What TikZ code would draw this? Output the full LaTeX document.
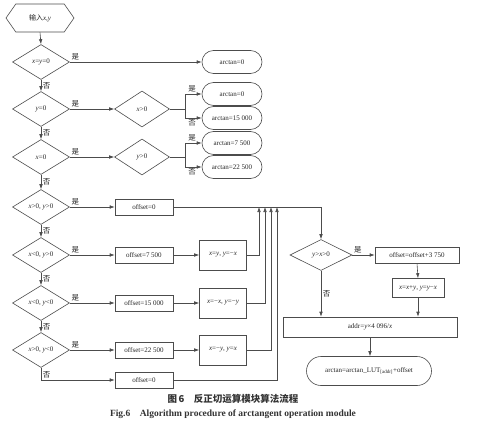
\documentclass[tikz,border=0pt]{standalone}
\usepackage{fontspec}
\setmainfont{Liberation Serif}
\newfontfamily\cjk{Noto Sans CJK SC}
\usetikzlibrary{shapes.geometric,shapes.misc,shapes.symbols,arrows.meta}
\newcommand\vx{\textit{x}}
\newcommand\vy{\textit{y}}
\begin{document}
\begin{tikzpicture}[x=1pt,y=-1pt,
  every node/.style={font=\fontsize{7}{8}\selectfont, text=black!85},
  line/.style={draw=black!70, line width=0.6pt},
  arr/.style={line, -{Latex[length=5pt,width=3.6pt]}},
  dia/.style={diamond, draw=black!70, line width=0.6pt, minimum width=57pt, minimum height=35pt, inner sep=0pt},
  box/.style={rectangle, draw=black!70, line width=0.6pt, minimum width=58pt, minimum height=16pt, inner sep=1pt},
  rbox/.style={rounded rectangle, draw=black!70, line width=0.6pt, minimum width=62pt, minimum height=23pt, inner sep=1pt},
  lab/.style={font=\cjk\fontsize{7.5}{8}\selectfont, inner sep=1.5pt}]
\useasboundingbox (0,0) rectangle (501,444);
% left column
\node[signal, signal to=west and east, signal pointer angle=110, draw=black!70, line width=0.6pt, minimum width=68pt, minimum height=28pt, inner sep=0pt] (hex) at (40,18) {{\cjk 输入}\vx,\vy};
\node[dia] (d1) at (41,62) {\vx=\vy=0};
\node[dia] (d2) at (41,109) {\vy=0};
\node[dia] (d3) at (41,157) {\vx=0};
\node[dia] (d4) at (41,207) {\vx>0, \vy>0};
\node[dia] (d5) at (41,255) {\vx<0, \vy>0};
\node[dia] (d6) at (41,303) {\vx<0, \vy<0};
\node[dia] (d7) at (41,350) {\vx>0, \vy<0};
% second column
\node[dia, minimum width=55pt, minimum height=36pt] (dx) at (142,109) {\vx>0};
\node[dia, minimum width=55pt, minimum height=36pt] (dy) at (142,157) {\vy>0};
\node[box] (o0) at (144,207) {offset=0};
\node[box] (o1) at (144,255) {offset=7 500};
\node[box] (o2) at (144,303) {offset=15 000};
\node[box] (o3) at (144,350) {offset=22 500};
\node[box] (o4) at (144,380) {offset=0};
% rounded results
\node[rbox] (r1) at (232,62) {arctan=0};
\node[rbox] (r2) at (232,94) {arctan=0};
\node[rbox] (r3) at (232,118) {arctan=15 000};
\node[rbox] (r4) at (232,143) {arctan=7 500};
\node[rbox] (r5) at (232,167) {arctan=22 500};
% swap boxes
\node[box, minimum width=47pt, minimum height=30pt] (b1) at (223,255) {\vx=\vy, \vy=−\vx};
\node[box, minimum width=47pt, minimum height=30pt] (b2) at (223,303) {\vx=−\vx, \vy=−\vy};
\node[box, minimum width=47pt, minimum height=30pt] (b3) at (223,350) {\vx=−\vy, \vy=\vx};
\coordinate (m1) at (259,207);
\coordinate (m2) at (265,207);
\coordinate (m3) at (271,207);
\coordinate (m4) at (277,207);
% right part
\node[dia, minimum width=62pt, minimum height=31pt] (dyx) at (321,255) {\vy>\vx>0};
\node[box, minimum width=84pt] (oo) at (417,255) {offset=offset+3 750};
\node[box, minimum width=52pt, minimum height=19pt] (xy) at (418,288) {\vx=\vx+\vy, \vy=\vy−\vx};
\node[box, minimum width=174pt, minimum height=20pt] (addr) at (370,327) {addr=\vy×4 096/\vx};
\node[rbox, minimum width=127pt, minimum height=29pt] (fin) at (369,371) {arctan=arctan\_LUT\textsubscript{[addr]}+offset};
% captions
\node[font=\cjk\bfseries\fontsize{9.5}{11}\selectfont, text=black!80] (cap1) at (233,399) {图\,6\quad 反正切运算模块算法流程};
\node[font=\bfseries\fontsize{9.5}{11}\selectfont, text=black!80] (cap2) at (233,414) {Fig.6\quad Algorithm procedure of arctangent operation module};
% connectors
\draw[arr] (hex.south) -- (d1.north);
\draw[arr] (d1.south) -- node[lab,right]{否} (d2.north);
\draw[arr] (d2.south) -- node[lab,right]{否} (d3.north);
\draw[arr] (d3.south) -- node[lab,right]{否} (d4.north);
\draw[arr] (d4.south) -- node[lab,right]{否} (d5.north);
\draw[arr] (d5.south) -- node[lab,right]{否} (d6.north);
\draw[arr] (d6.south) -- node[lab,right]{否} (d7.north);
\draw[arr] (d7.south) |- node[lab,right,pos=0.3]{否} (o4.west);
\draw[arr] (d1.east) -- node[lab,above right,pos=0]{是} (r1.west);
\draw[arr] (d2.east) -- node[lab,above right,pos=0]{是} (dx.west);
\draw[arr] (d3.east) -- node[lab,above right,pos=0]{是} (dy.west);
\draw[arr] (d4.east) -- node[lab,above right,pos=0]{是} (o0.west);
\draw[arr] (d5.east) -- node[lab,above right,pos=0]{是} (o1.west);
\draw[arr] (d6.east) -- node[lab,above right,pos=0]{是} (o2.west);
\draw[arr] (d7.east) -- node[lab,above right,pos=0]{是} (o3.west);
\draw[arr] (dx.east) -- ++(15,0) |- node[lab,above,pos=0.72]{是} (r2.west);
\draw[arr] (dx.east) -- ++(15,0) |- node[lab,below,pos=0.72]{否} (r3.west);
\draw[arr] (dy.east) -- ++(15,0) |- node[lab,above,pos=0.72]{是} (r4.west);
\draw[arr] (dy.east) -- ++(15,0) |- node[lab,below,pos=0.72]{否} (r5.west);
\draw[arr] (o1.east) -- (b1.west);
\draw[arr] (o2.east) -- (b2.west);
\draw[arr] (o3.east) -- (b3.west);
\draw[arr] (b1.east) -| (m1);
\draw[arr] (b2.east) -| (m2);
\draw[arr] (b3.east) -| (m3);
\draw[arr] (o4.east) -| (m4);
\draw[arr] (o0.east) -| (dyx.north);
\draw[arr] (dyx.east) -- node[lab,above right,pos=0]{是} (oo.west);
\draw[arr] (oo.south) -- (xy.north);
\draw[arr] (xy.south) -- (xy.south |- addr.north);
\draw[arr] (dyx.south) -- node[lab,right]{否} (dyx.south |- addr.north);
\draw[arr] (addr.south) -- (addr.south |- fin.north);
\end{tikzpicture}
\end{document}
